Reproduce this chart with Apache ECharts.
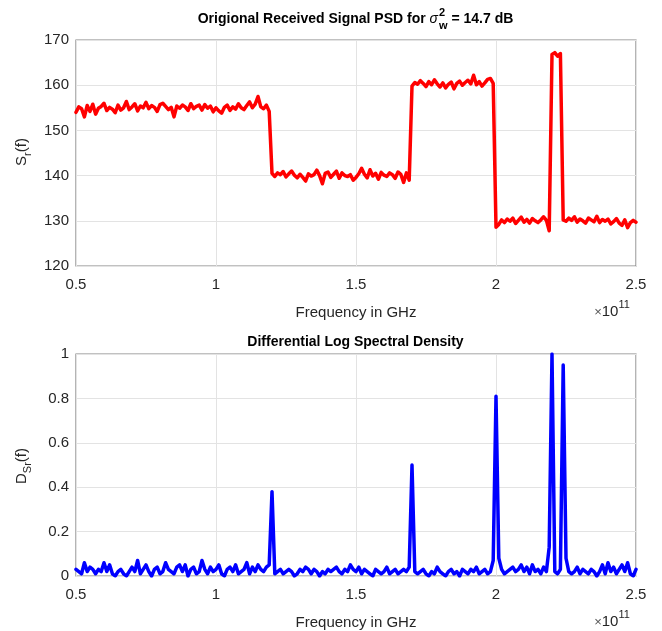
<!DOCTYPE html>
<html>
<head>
<meta charset="utf-8">
<script src="https://cdn.jsdelivr.net/npm/echarts@6/dist/echarts.min.js"></script>
<style>
html,body{margin:0;padding:0;background:#fff;}
#chart{width:662px;height:631px;}
</style>
</head>
<body>
<div id="chart"></div>
<script>
// Frequency grid (x 10^11 Hz), 0.50 .. 2.50 step 0.01
var freqStart = 0.5, freqStep = 0.01, freqCount = 201;

// Top: received signal PSD S_r(f)
var psdValues = [
154.0,155.2,154.8,153.0,155.5,154.2,155.8,153.6,154.9,155.3,
156.0,154.4,155.1,154.7,153.9,155.6,154.5,155.0,156.4,154.6,
155.2,155.9,154.3,155.4,155.0,156.2,154.8,155.5,155.1,154.2,
155.7,156.0,155.3,154.6,155.1,153.0,155.4,154.9,155.6,155.2,
154.4,155.9,154.8,155.3,155.6,154.5,155.7,154.9,155.4,154.1,
155.0,154.3,153.8,155.1,155.6,154.4,155.2,154.7,155.9,155.0,
154.6,155.5,156.3,155.0,155.8,157.5,155.2,154.8,155.6,154.2,
140.5,139.8,140.6,140.2,140.9,139.7,140.4,141.0,140.1,139.5,
140.3,139.6,138.8,140.4,139.9,140.2,141.2,140.0,138.2,140.5,
140.8,139.6,140.3,141.0,139.4,140.6,140.0,139.8,140.2,139.0,
139.6,140.4,141.6,140.3,139.5,141.3,139.9,140.5,139.2,140.7,
140.1,139.8,140.6,140.2,139.4,140.8,140.3,138.5,140.6,139.0,
159.8,160.6,160.2,161.0,160.4,159.7,160.8,160.1,161.2,160.3,
159.6,160.5,159.4,160.2,160.7,159.2,160.4,160.9,160.0,160.6,
161.1,160.3,162.2,160.1,160.8,159.8,160.5,161.3,161.5,160.4,
128.6,129.2,130.2,129.6,130.4,129.9,130.6,129.4,130.1,130.8,
129.7,130.3,129.5,130.5,130.0,129.6,130.2,130.9,130.1,127.8,
166.8,167.2,166.4,167.0,
130.2,129.9,130.6,130.1,130.9,129.7,130.4,130.0,129.5,130.6,
130.2,129.8,131.0,129.6,130.3,129.9,130.4,129.3,129.8,130.5,
129.5,129.0,130.2,128.5,129.6,130.1,129.7
];

// Bottom: differential log spectral density D_Sr(f)
var dlsdValues = [
0.03,0.02,0.01,0.06,0.02,0.04,0.03,0.01,0.03,0.02,
0.06,0.02,0.05,0.01,0.00,0.02,0.03,0.01,0.00,0.02,
0.04,0.02,0.07,0.01,0.03,0.05,0.02,0.00,0.03,0.04,
0.01,0.02,0.06,0.03,0.02,0.01,0.04,0.05,0.02,0.05,
0.00,0.03,0.04,0.01,0.02,0.07,0.03,0.01,0.04,0.02,
0.03,0.05,0.01,0.00,0.03,0.04,0.02,0.05,0.01,0.02,
0.03,0.06,0.01,0.04,0.02,0.05,0.03,0.02,0.04,0.05,
0.38,
0.01,0.02,0.03,0.01,0.02,0.03,0.02,0.00,0.01,0.03,
0.02,0.04,0.03,0.01,0.03,0.02,0.00,0.02,0.01,0.03,
0.02,0.03,0.04,0.02,0.01,0.03,0.02,0.05,0.03,0.02,
0.04,0.01,0.03,0.02,0.01,0.00,0.03,0.02,0.01,0.02,
0.04,0.01,0.02,0.03,0.01,0.02,0.03,0.02,0.04,
0.50,
0.02,0.01,0.02,0.03,0.01,0.00,0.02,0.01,0.04,0.02,
0.01,0.00,0.02,0.03,0.01,0.02,0.00,0.03,0.02,0.01,
0.03,0.02,0.04,0.01,0.02,0.03,0.01,0.02,0.07,
0.81,
0.08,0.03,0.01,0.02,0.03,0.04,0.02,0.03,0.05,0.02,
0.04,0.01,0.05,0.02,0.03,0.01,0.04,0.02,0.13,
1.00,
0.02,0.01,0.03,
0.95,
0.08,
0.02,0.01,0.02,0.04,0.01,0.03,0.02,0.01,0.03,0.02,
0.00,0.02,0.05,0.01,0.06,0.02,0.04,0.01,0.03,0.05,
0.02,0.06,0.01,0.00,0.03
];

var xTicks = [0.5, 1, 1.5, 2, 2.5];
var topYTicks = [120, 130, 140, 150, 160, 170];
var botYTicks = [0, 0.2, 0.4, 0.6, 0.8, 1];

var freqs = [];
for (var i = 0; i < freqCount; i++) freqs.push(+(freqStart + i * freqStep).toFixed(2));
function pairs(vals){ return vals.map(function(v,i){ return [freqs[i], v]; }); }

var FONT = '"Liberation Sans", Arial, Helvetica, sans-serif';
var TXT = '#262626';
var FRAME = '#848484';
var GRID = '#e3e3e3';

function xAxisCfg(gi){
  return {
    type:'value', gridIndex:gi, min:xTicks[0], max:xTicks[xTicks.length-1], interval:0.5,
    axisLine:{show:false}, axisTick:{show:false},
    splitLine:{show:true, lineStyle:{color:GRID, width:1}},
    axisLabel:{color:TXT, fontFamily:FONT, fontSize:15, margin:11,
      formatter:function(v){ return String(v); }},
    name:'Frequency in GHz', nameLocation:'middle', nameGap:39,
    nameTextStyle:{color:TXT, fontFamily:FONT, fontSize:15}
  };
}
function yAxisCfg(gi, ticks){
  return {
    type:'value', gridIndex:gi, min:ticks[0], max:ticks[ticks.length-1],
    interval: +(ticks[1]-ticks[0]).toFixed(4),
    axisLine:{show:false}, axisTick:{show:false},
    splitLine:{show:true, lineStyle:{color:GRID, width:1}},
    axisLabel:{color:TXT, fontFamily:FONT, fontSize:15, margin:7,
      formatter:function(v){ return String(+v.toFixed(2)); }}
  };
}

var chart = echarts.init(document.getElementById('chart'), null, {renderer:'canvas'});

// measure helper for title composition
var mctx = document.createElement('canvas').getContext('2d');
function tw(s, f){ mctx.font = f; return mctx.measureText(s).width; }
var fMain = 'bold 14px ' + FONT;
var fSig = 'italic 14px ' + FONT;
var fSmall = 'bold 11px ' + FONT;
var t1 = 'Origional Received Signal PSD for ';
var t2 = '\u03C3';
var t3 = ' = 14.7 dB';
var w1 = tw(t1,fMain), w2 = tw(t2,fSig), w3s = Math.max(tw('2',fSmall), tw('w',fSmall)), w4 = tw(t3,fMain);
var titleW = w1 + w2 + 1 + w3s + w4;
var tx0 = 355.5 - titleW/2;
var tyc = 19;

var graphics = [
  {type:'text', x:tx0, y:tyc, style:{text:t1, font:fMain, fill:'#000', verticalAlign:'middle', align:'left'}},
  {type:'text', x:tx0+w1, y:tyc, style:{text:t2, font:fSig, fill:'#000', verticalAlign:'middle', align:'left'}},
  {type:'text', x:tx0+w1+w2+1, y:tyc-6, style:{text:'2', font:fSmall, fill:'#000', verticalAlign:'middle', align:'left'}},
  {type:'text', x:tx0+w1+w2+1, y:tyc+7, style:{text:'w', font:fSmall, fill:'#000', verticalAlign:'middle', align:'left'}},
  {type:'text', x:tx0+w1+w2+1+w3s, y:tyc, style:{text:t3, font:fMain, fill:'#000', verticalAlign:'middle', align:'left'}},
  {type:'text', x:355.5, y:342, style:{text:'Differential Log Spectral Density', font:fMain, fill:'#000', verticalAlign:'middle', align:'center'}},
  {type:'text', x:22, y:152, rotation:Math.PI/2,
    style:{text:'{n|S}{s|r}{n|(f)}', align:'center', verticalAlign:'middle',
      rich:{n:{fontFamily:FONT, fontSize:15, fill:TXT, lineHeight:22, verticalAlign:'middle'},
            s:{fontFamily:FONT, fontSize:11, fill:TXT, lineHeight:22, verticalAlign:'bottom'}}}},
  {type:'text', x:22, y:466, rotation:Math.PI/2,
    style:{text:'{n|D}{s|Sr}{n|(f)}', align:'center', verticalAlign:'middle',
      rich:{n:{fontFamily:FONT, fontSize:15, fill:TXT, lineHeight:22, verticalAlign:'middle'},
            s:{fontFamily:FONT, fontSize:11, fill:TXT, lineHeight:22, verticalAlign:'bottom'}}}},
  {type:'text', x:612, y:309,
    style:{text:'{x|\u00D7}{n|10}{p|11}', align:'center', verticalAlign:'middle',
      rich:{x:{fontFamily:FONT, fontSize:13, fill:'#555', lineHeight:20, verticalAlign:'bottom'},
            n:{fontFamily:FONT, fontSize:15, fill:TXT, lineHeight:20, verticalAlign:'bottom'},
            p:{fontFamily:FONT, fontSize:11, fill:TXT, lineHeight:20, verticalAlign:'top'}}}},
  {type:'text', x:612, y:619,
    style:{text:'{x|\u00D7}{n|10}{p|11}', align:'center', verticalAlign:'middle',
      rich:{x:{fontFamily:FONT, fontSize:13, fill:'#555', lineHeight:20, verticalAlign:'bottom'},
            n:{fontFamily:FONT, fontSize:15, fill:TXT, lineHeight:20, verticalAlign:'bottom'},
            p:{fontFamily:FONT, fontSize:11, fill:TXT, lineHeight:20, verticalAlign:'top'}}}}
];

chart.setOption({
  animation:false,
  backgroundColor:'#ffffff',
  grid:[
    {left:76, top:40, width:560, height:226, show:true, borderColor:FRAME, borderWidth:1.2, backgroundColor:'transparent'},
    {left:76, top:354, width:560, height:223, show:true, borderColor:FRAME, borderWidth:1.2, backgroundColor:'transparent'}
  ],
  xAxis:[xAxisCfg(0), xAxisCfg(1)],
  yAxis:[yAxisCfg(0, topYTicks), yAxisCfg(1, botYTicks)],
  series:[
    {type:'line', xAxisIndex:0, yAxisIndex:0, data:pairs(psdValues), showSymbol:false, symbol:'none',
      lineStyle:{color:'#ff0000', width:3.5, join:'round', cap:'round'}, z:3},
    {type:'line', xAxisIndex:1, yAxisIndex:1, data:pairs(dlsdValues), showSymbol:false, symbol:'none',
      lineStyle:{color:'#0000ff', width:3.5, join:'round', cap:'round'}, z:3}
  ],
  graphic: graphics
});
</script>
</body>
</html>
